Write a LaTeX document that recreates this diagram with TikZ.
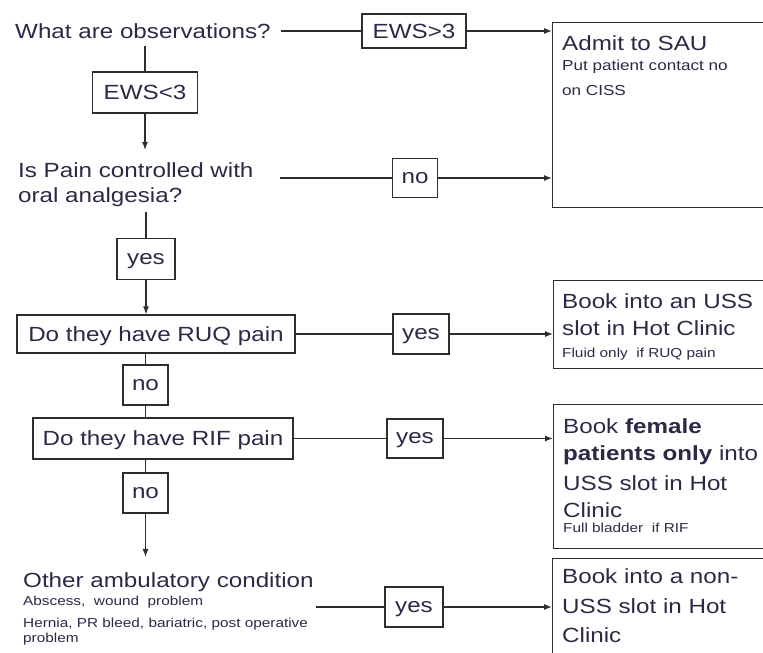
\documentclass[tikz,border=0pt]{standalone}
\usepackage{fontspec}
\setmainfont{Liberation Sans}[FakeStretch=1.18]
\usetikzlibrary{arrows.meta}
\definecolor{inkc}{RGB}{45,40,70}
\definecolor{linec}{RGB}{45,45,45}
\newcommand\mainfs{\fontsize{20.5}{28}\selectfont}
\newcommand\smallfs{\fontsize{13}{16}\selectfont}
\newcommand\notefs{\fontsize{14.5}{16}\selectfont}

\begin{document}
\begin{tikzpicture}[x=1pt,y=-1pt,
  every node/.style = {text=inkc, font=\mainfs},
  ask/.style = {anchor=base west, inner sep=0pt, align=left},
  tag/.style = {draw=linec, line width=1.3pt, inner sep=0pt, minimum height=40pt,
    text height=10.6pt, text depth=0pt},
  captag/.style = {tag, text height=14.7pt},
  outbox/.style = {draw=linec, line width=1.3pt, anchor=north west, minimum width=220pt},
  link/.style = {draw=linec, line width=1.2pt},
  go/.style = {link, -{Latex[length=8pt,width=6pt]}}]
  \useasboundingbox (0,0) rectangle (763,653);

  % questions down the left (base = last line)
  \node[ask] (obs) at (15,38) {What are observations?};
  \node[ask] (pain) at (18,202) {Is Pain controlled with\\[-3pt]oral analgesia?};
  \node[captag, minimum width=278pt, minimum height=38pt] (ruq) at (156,334) {Do they have RUQ pain};
  \node[captag, minimum width=260pt, minimum height=41pt] (rif) at (163,438.5) {Do they have RIF pain};
  \node[ask] (other) at (23,642) {Other ambulatory condition\\[-10pt]
    {\smallfs Abscess,\ \ wound\ \ problem}\\[-6pt]
    {\smallfs Hernia,\ PR bleed,\ bariatric,\ post operative}\\[-13pt]
    {\smallfs problem}};

  % answers
  \node[captag, minimum width=104pt, minimum height=34pt] (ewshi) at (414,31) {EWS>3};
  \node[captag, minimum width=105pt, minimum height=41pt] (ewslo) at (145,92.5) {EWS<3};
  \node[tag, minimum width=45pt, minimum height=39pt] (painno) at (415,178) {no};
  \node[tag, minimum width=58pt, minimum height=41pt] (painyes) at (146,259) {yes};
  \node[tag, minimum width=56pt] (ruqyes) at (421,334) {yes};
  \node[tag, minimum width=45pt] (ruqno) at (145.5,385) {no};
  \node[tag, minimum width=56pt, minimum height=39pt] (rifyes) at (415,438.5) {yes};
  \node[tag, minimum width=45pt] (rifno) at (145.5,493) {no};
  \node[tag, minimum width=58pt] (otheryes) at (414,607) {yes};

  % outcomes on the right
  \node[outbox, minimum height=185pt] (admit) at (552,22) {};
  \node[ask] (admittxt) at (562,95) {Admit to SAU\\[-8pt]
    {\notefs Put patient contact no}\\[-3pt]{\notefs on CISS}};
  \node[outbox, minimum height=88pt] (usshot) at (553,280) {};
  \node[ask] (usshottxt) at (562,357) {Book into an USS\\[-1pt]slot in Hot Clinic\\[-6pt]
    {\smallfs Fluid only\ \ if RUQ pain}};
  \node[outbox, minimum height=144pt] (female) at (553,404) {};
  \node[ask] (femaletxt) at (563,532) {Book \textbf{female}\\[-1pt]
    \textbf{patients only} into\\[2pt]USS slot in Hot\\[-1pt]Clinic\\[-13pt]
    {\smallfs Full bladder\ \ if RIF}};
  \node[outbox, minimum height=110pt] (nonuss) at (552,558) {};
  \node[ask] (nonusstxt) at (562,642) {Book into a non-\\[2pt]USS slot in Hot\\[1pt]Clinic};

  \draw[link, shorten <=10pt] (obs.east |- ewshi.west) -- (ewshi.west);
  \draw[go] (ewshi.east) -- (ewshi.east -| admit.west);
  \draw[link, shorten <=8pt] (obs.south -| ewslo.north) -- (ewslo.north);
  \draw[go, shorten >=12pt] (ewslo.south) -- (ewslo.south |- pain.north);
  \draw[link, shorten <=26pt] (pain.east |- painno.west) -- (painno.west);
  \draw[go] (painno.east) -- (painno.east -| admit.west);
  \draw[link, shorten <=6pt] (pain.south -| painyes.north) -- (painyes.north);
  \draw[go] (painyes.south) -- (painyes.south |- ruq.north);
  \draw[link] (ruq.east) -- (ruqyes.west);
  \draw[go] (ruqyes.east) -- (ruqyes.east -| usshot.west);
  \draw[link] (ruq.south -| ruqno.north) -- (ruqno.north);
  \draw[link] (ruqno.south) -- (ruqno.south |- rif.north);
  \draw[link] (rif.east) -- (rifyes.west);
  \draw[go] (rifyes.east) -- (rifyes.east -| female.west);
  \draw[link] (rif.south -| rifno.north) -- (rifno.north);
  \draw[go, shorten >=15pt] (rifno.south) -- (rifno.south |- other.north);
  \draw[link, shorten <=2pt] (other.east |- otheryes.west) -- (otheryes.west);
  \draw[go] (otheryes.east) -- (otheryes.east -| nonuss.west);
\end{tikzpicture}
\end{document}
